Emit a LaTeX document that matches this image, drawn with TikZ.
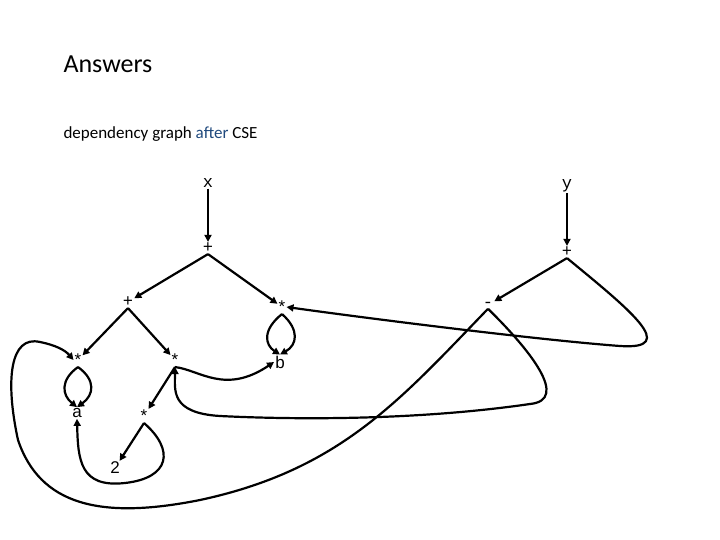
\documentclass[tikz,border=0pt]{standalone}
\usepackage{fontspec}
\setmainfont{Carlito}
\newfontfamily\monof{Liberation Mono}
\newfontfamily\arialf{Liberation Sans}
\usetikzlibrary{arrows.meta}
\definecolor{afterblue}{RGB}{31,73,125}
\begin{document}
\begin{tikzpicture}[x=1pt,y=-1pt,
  mono/.style={font=\monof\fontsize{17}{17}\selectfont,inner sep=1pt},
  sans/.style={font=\arialf\fontsize{17}{17}\selectfont,inner sep=1pt},
  edge/.style={line width=2.2pt,-{Triangle[length=7pt,width=7pt]}},
  plain/.style={line width=2.2pt}]
\useasboundingbox (0,0) rectangle (720,540);
\node[anchor=west,font=\fontsize{26}{26}\selectfont] (title) at (60,64) {Answers};
\node[anchor=west,font=\fontsize{17}{17}\selectfont] (sub) at (60,134) {dependency graph \textcolor{afterblue}{after} CSE};
\node[mono] (x) at (208,183) {x};
\node[mono] (y) at (567,186) {y};
\node[mono] (p1) at (208,248) {+};
\node[mono] (p2) at (567,252) {+};
\node[mono] (pl) at (128,302) {+};
\node[sans] (st) at (282,307) {*};
\node[mono] (mi) at (488,305) {-};
\node[sans] (sa) at (78,360) {*};
\node[sans] (sm) at (175,360) {*};
\node[sans] (b) at (280,362) {b};
\node[sans] (a) at (77,413) {a};
\node[sans] (sl) at (144,416) {*};
\node[sans] (two) at (115,468) {2};
\draw[edge] (x) -- (p1);
\draw[edge] (y) -- (p2);
\draw[edge] (p1.south) -- (pl);
\draw[edge] (p1.south) -- (st);
\draw[edge] (p2.south) -- (mi);
\draw[edge] (p2.south) .. controls (630,310) and (680,350) .. (620,346) .. controls (540,340) and (380,320) .. (st.east);
\draw[edge] (mi.south) .. controls (530,350) and (570,400) .. (530,404) .. controls (420,420) and (300,420) .. (220,416) .. controls (170,413) and (175,390) .. (sm.south);
\draw[edge] (mi.south) .. controls (400,400) and (340,470) .. (200,500) .. controls (100,520) and (40,505) .. (18,440) .. controls (5,380) and (10,335) .. (40,342) .. controls (55,345) and (65,350) .. (sa.west);
\draw[edge] (pl.south) -- (sa);
\draw[edge] (pl.south) -- (sm);
\draw[edge] (sa.south) .. controls (60,380) and (62,395) .. (a.north);
\draw[edge] (sa.south) .. controls (96,380) and (94,395) .. (a.north);
\draw[edge] (st.south) .. controls (262,330) and (265,345) .. (b.north);
\draw[edge] (st.south) .. controls (300,330) and (297,345) .. (b.north);
\draw[edge] (sm.south) .. controls (200,370) and (225,395) .. (b.west);
\draw[edge] (sm.south) -- (sl);
\draw[edge] (sl.south) -- (two);
\draw[edge] (sl.south) .. controls (175,450) and (170,478) .. (125,483) .. controls (80,488) and (78,460) .. (a.south);
\end{tikzpicture}
\end{document}
